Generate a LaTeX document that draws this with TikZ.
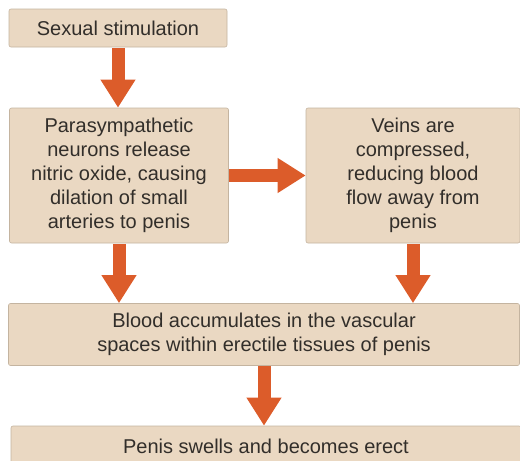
\documentclass[tikz,border=0pt]{standalone}
\usepackage{fontspec}
\setmainfont{Liberation Sans}
\usetikzlibrary{arrows.meta}
\definecolor{boxfill}{RGB}{234,216,194}
\definecolor{boxedge}{RGB}{196,180,160}
\definecolor{arrowc}{RGB}{220,92,42}
\definecolor{txt}{RGB}{50,46,42}
\tikzset{
  stagebox/.style={rectangle, fill=boxfill, draw=boxedge, line width=0.6pt,
    rounded corners=2pt, inner sep=0pt, align=center, text=txt,
    font=\fontsize{20}{24}\selectfont},
  flowarrow/.style={draw=arrowc, line width=13pt,
    -{Triangle[width=33pt,length=28pt]}, shorten <=0.5pt},
}
\begin{document}
\begin{tikzpicture}[x=1pt,y=-1pt]
\useasboundingbox (0,0) rectangle (520,461);
\node[stagebox, minimum width=218pt, minimum height=38pt] (b1) at (118,28) {Sexual stimulation};
\node[stagebox, minimum width=219pt, minimum height=135pt] (b2) at (119,175.5)
  {Parasympathetic\\neurons release\\nitric oxide, causing\\dilation of small\\arteries to penis};
\node[stagebox, minimum width=214pt, minimum height=135pt] (b3) at (413,175.5)
  {Veins are\\compressed,\\reducing blood\\flow away from\\penis};
\node[stagebox, minimum width=511pt, minimum height=62pt] (b4) at (264,334.5)
  {Blood accumulates in the vascular\\spaces within erectile tissues of penis};
\node[stagebox, minimum width=510pt, minimum height=40pt] (b5) at (266,446)
  {Penis swells and becomes erect};
\draw[flowarrow] (b1.south) -- (b1.south |- b2.north);
\draw[flowarrow] (b2.east) -- (b3.west);
\draw[flowarrow] (b2.south) -- (b2.south |- b4.north);
\draw[flowarrow] (b3.south) -- (b3.south |- b4.north);
\draw[flowarrow] (b4.south) -- (b4.south |- b5.north);
\end{tikzpicture}
\end{document}
